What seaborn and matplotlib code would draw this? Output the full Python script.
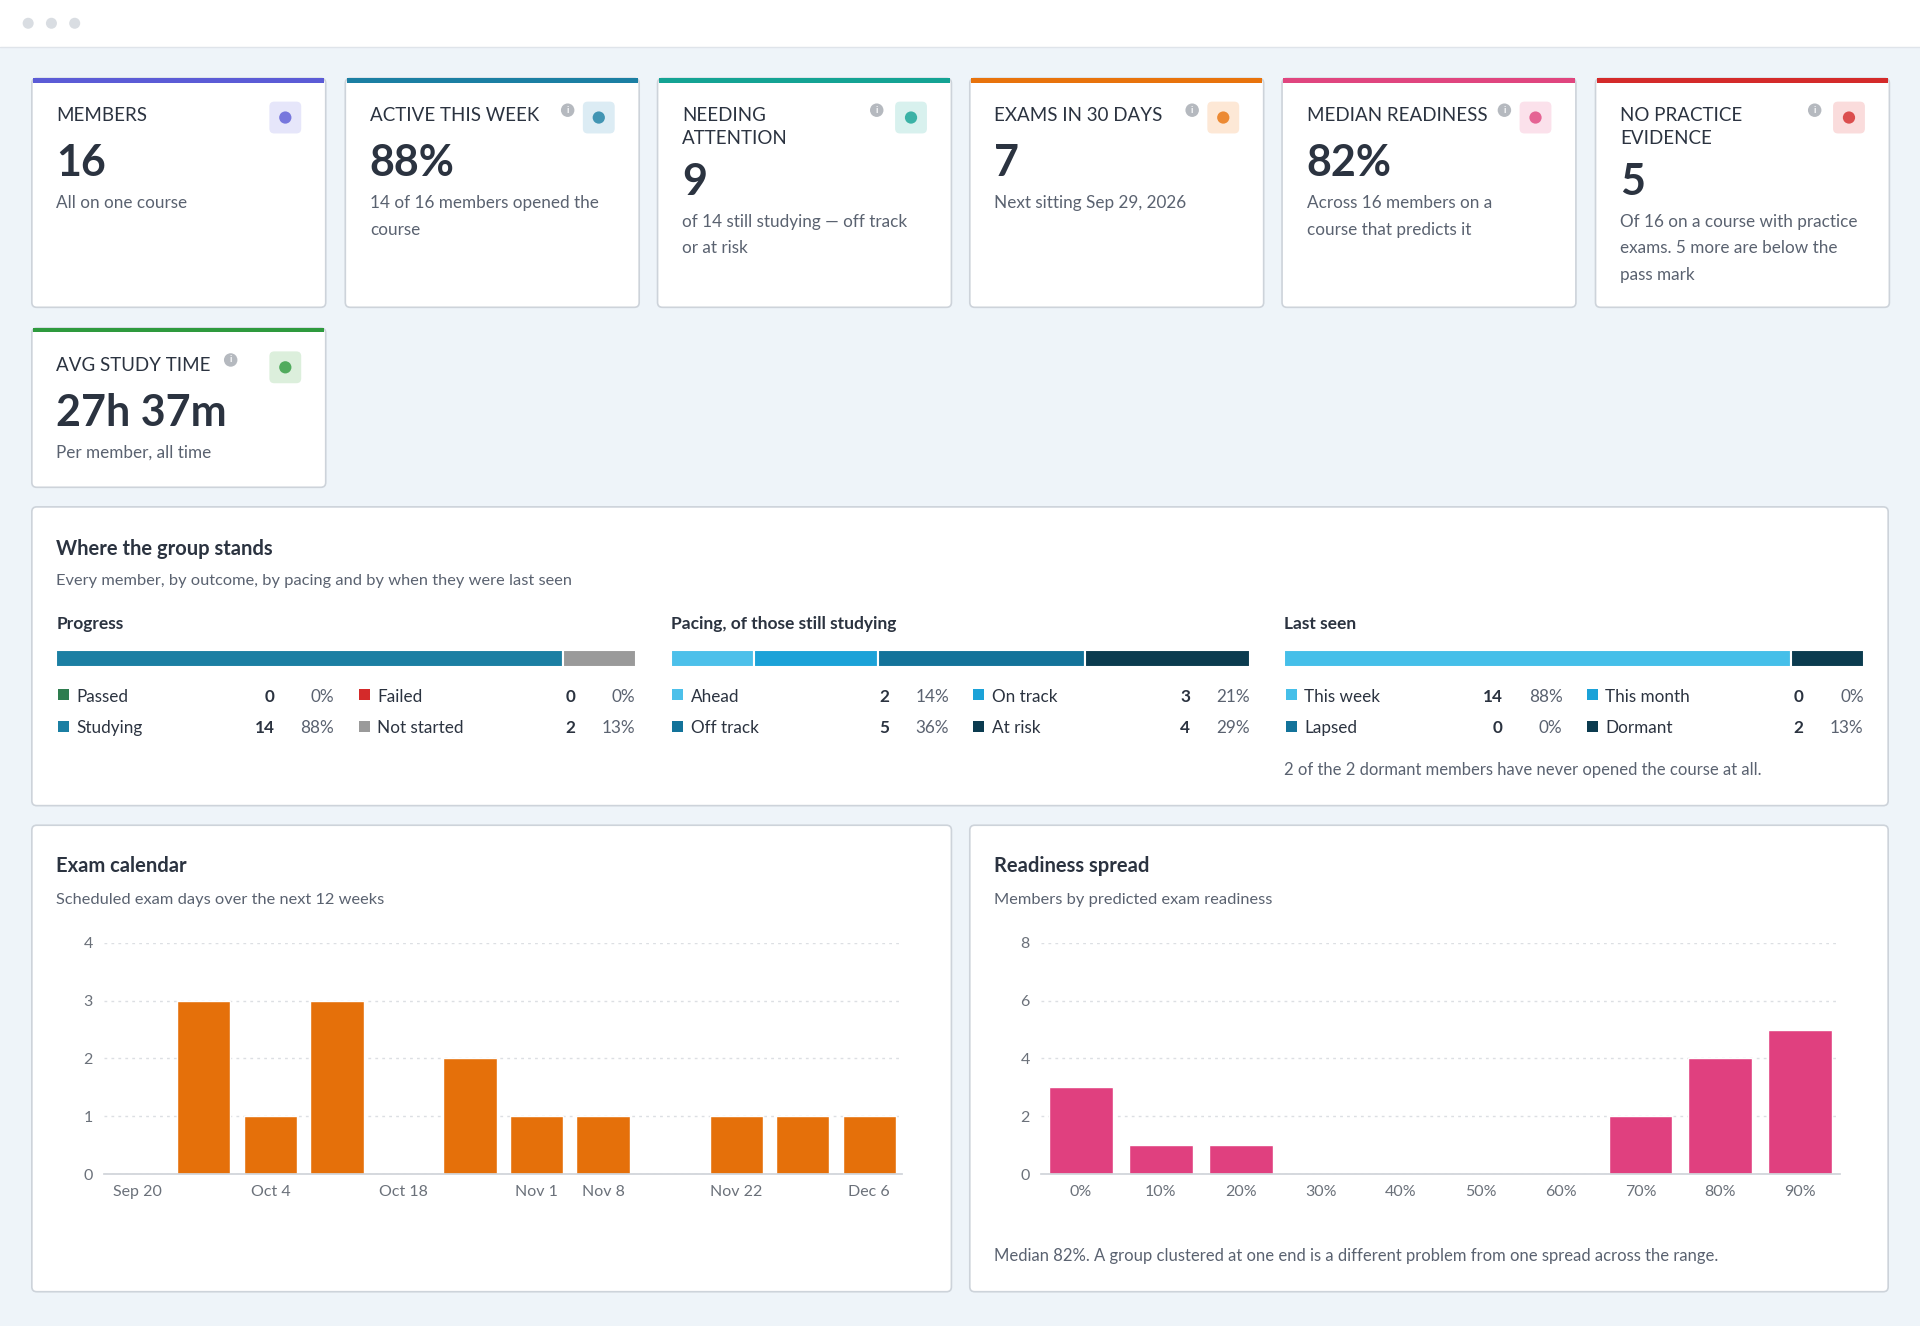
import matplotlib
matplotlib.use("Agg")
import matplotlib.pyplot as plt
import seaborn as sns
import numpy as np
from matplotlib.patches import FancyBboxPatch, Rectangle, Circle

sns.set_theme(style="white")
plt.rcParams['font.family'] = ['Lato', 'DejaVu Sans']

# ---------------- data ----------------
card_titles = [["MEMBERS"], ["ACTIVE THIS WEEK"], ["NEEDING", "ATTENTION"], ["EXAMS IN 30 DAYS"],
               ["MEDIAN READINESS"], ["NO PRACTICE", "EVIDENCE"], ["AVG STUDY TIME"]]
card_values = ["16", "88%", "9", "7", "82%", "5", "27h 37m"]
card_notes = [["All on one course"], ["14 of 16 members opened the", "course"],
              ["of 14 still studying — off track", "or at risk"], ["Next sitting Sep 29, 2026"],
              ["Across 16 members on a", "course that predicts it"],
              ["Of 16 on a course with practice", "exams. 5 more are below the", "pass mark"],
              ["Per member, all time"]]
card_info = [False, True, True, True, True, True, True]
card_colors = ["#5b5bd6", "#1b7fa3", "#14a394", "#e8730c", "#e0457f", "#d42a2a", "#2e9a3e"]
card_icon_bg = ["#e6e6fa", "#dcecf4", "#d8f1ee", "#fde8d6", "#fbe1eb", "#fadcdc", "#dcefdc"]

progress_labels = ["Passed", "Failed", "Studying", "Not started"]
progress_counts = [0, 0, 14, 2]
progress_pcts = ["0%", "0%", "88%", "13%"]
progress_colors = ["#2e7d4f", "#d42a2a", "#1b7fa3", "#9a9a9a"]

pacing_labels = ["Ahead", "On track", "Off track", "At risk"]
pacing_counts = [2, 3, 5, 4]
pacing_pcts = ["14%", "21%", "36%", "29%"]
pacing_colors = ["#4cc0ea", "#1ba2d8", "#13739a", "#0b3b4f"]

seen_labels = ["This week", "This month", "Lapsed", "Dormant"]
seen_counts = [14, 0, 0, 2]
seen_pcts = ["88%", "0%", "0%", "13%"]
seen_colors = ["#45bfe9", "#1ba2d8", "#13739a", "#0b3b4f"]

exam_weeks = ["Sep 20", "Sep 27", "Oct 4", "Oct 11", "Oct 18", "Oct 25", "Nov 1", "Nov 8",
              "Nov 15", "Nov 22", "Nov 29", "Dec 6"]
exam_counts = [0, 3, 1, 3, 0, 2, 1, 1, 0, 1, 1, 1]
exam_shown = ["Sep 20", "Oct 4", "Oct 18", "Nov 1", "Nov 8", "Nov 22", "Dec 6"]

ready_bins = ["0%", "10%", "20%", "30%", "40%", "50%", "60%", "70%", "80%", "90%"]
ready_counts = [3, 1, 1, 0, 0, 0, 0, 2, 4, 5]

# ---------------- canvas ----------------
W, H = 1568, 1083
fig = plt.figure(figsize=(19.2, 13.26), dpi=100)
bg = fig.add_axes([0, 0, 1, 1])
bg.set_xlim(0, W); bg.set_ylim(H, 0); bg.axis("off")
fig.patch.set_facecolor("#eef4f9")

DARK = "#2b3340"; GRAY = "#5a6270"; BORDER = "#cdd3da"

def fx(x): return x / W
def fy(y): return 1 - y / H
def T(x, y, s, size=12, color=DARK, weight="normal", ha="left", va="baseline"):
    bg.text(x, y, s, fontsize=size, color=color, fontweight=weight, ha=ha, va=va)
def box(x0, y0, x1, y1, fc="white", ec=BORDER, r=4, lw=1.2, z=1):
    bg.add_patch(FancyBboxPatch((x0, y0), x1 - x0, y1 - y0, boxstyle=f"round,pad=0,rounding_size={r}",
                                fc=fc, ec=ec, lw=lw, zorder=z))

# window header
bg.add_patch(Rectangle((0, 0), W, 38, fc="white", ec="none"))
bg.plot([0, W], [38, 38], color="#dfe4ea", lw=1)
for cx in (23, 42, 61):
    bg.add_patch(Circle((cx, 19), 4.5, fc="#d9dde2", ec="none"))

# cards
xs = [26, 282, 537, 792, 1047, 1303, 26]
ys = [64] * 6 + [268]
hs = [187] * 6 + [130]
for i in range(7):
    x0, y0, h = xs[i], ys[i], hs[i]
    box(x0, y0, x0 + 240, y0 + h)
    bg.add_patch(Rectangle((x0 + 1, y0), 238, 3.5, fc=card_colors[i], ec="none", zorder=3))
    tl = card_titles[i]
    for k, line in enumerate(tl):
        T(x0 + 20, y0 + 35 + 19 * k, line, size=13.5)
    if card_info[i]:
        if len(tl) == 1:
            ix = x0 + 20 + len(tl[0]) * 9.6 + 8
        else:
            ix = x0 + 179
        bg.add_patch(Circle((ix, y0 + 26), 5.5, fc="#b5b9bf", ec="none", zorder=3))
        T(ix, y0 + 26, "i", size=6.5, color="white", weight="bold", ha="center", va="center")
    box(x0 + 194, y0 + 19, x0 + 220, y0 + 45, fc=card_icon_bg[i], ec="none", r=4, z=3)
    bg.add_patch(Circle((x0 + 207, y0 + 32), 5, fc=card_colors[i], ec="none", zorder=4, alpha=0.8))
    off = 15 * (len(tl) - 1)
    T(x0 + 20, y0 + 80 + off, card_values[i], size=31, weight="bold")
    for k, line in enumerate(card_notes[i]):
        T(x0 + 20, y0 + 106 + off + 22 * k, line, size=12.3, color=GRAY)

# group stands section
box(26, 414, 1542, 658)
T(46, 453, "Where the group stands", size=14.5, weight="bold")
T(46, 478, "Every member, by outcome, by pacing and by when they were last seen", size=11.8, color=GRAY)

def stack_section(x0, title, labels, counts, pcts, colors):
    T(x0, 514, title, size=12.5, weight="bold")
    ax = fig.add_axes([fx(x0), fy(545), fx(473), 14 / H])
    left = 0
    for c, col in zip(counts, colors):
        if c > 0:
            ax.barh([0], [c], left=left, color=col, height=1, edgecolor="white", linewidth=1.5)
        left += c
    ax.set_xlim(0, sum(counts)); ax.set_ylim(-0.5, 0.5); ax.axis("off")
    for j in range(4):
        col = j % 2; row = j // 2
        bx = x0 + col * 246; by = 568 + row * 26
        bg.add_patch(Rectangle((bx + 1, by - 5), 9, 9, fc=colors[j], ec="none"))
        T(bx + 16, by + 5, labels[j], size=12.3, va="baseline")
        T(bx + 178, by + 5, str(counts[j]), size=12.3, weight="bold", ha="right")
        T(bx + 227, by + 5, pcts[j], size=12.3, color=GRAY, ha="right")

stack_section(46, "Progress", progress_labels, progress_counts, progress_pcts, progress_colors)
stack_section(548, "Pacing, of those still studying", pacing_labels, pacing_counts, pacing_pcts, pacing_colors)
stack_section(1049, "Last seen", seen_labels, seen_counts, seen_pcts, seen_colors)
T(1049, 633, "2 of the 2 dormant members have never opened the course at all.", size=12, color=GRAY)

# chart panels
box(26, 674, 777, 1055)
box(792, 674, 1542, 1055)
T(46, 712, "Exam calendar", size=14.5, weight="bold")
T(46, 738, "Scheduled exam days over the next 12 weeks", size=11.8, color=GRAY)
T(812, 712, "Readiness spread", size=14.5, weight="bold")
T(812, 738, "Members by predicted exam readiness", size=11.8, color=GRAY)
T(812, 1030, "Median 82%. A group clustered at one end is a different problem from one spread across the range.",
  size=12, color=GRAY)

def style(ax, ymax, step):
    ax.set_ylim(0, ymax)
    ax.set_yticks(np.arange(0, ymax + 0.1, step))
    ax.grid(axis="y", color="#dcdfe3", linestyle=(0, (2, 3)), lw=1)
    ax.set_axisbelow(True)
    for s in ("top", "right", "left"):
        ax.spines[s].set_visible(False)
    ax.spines["bottom"].set_color("#d0d4d9")
    ax.tick_params(axis="both", length=0, labelsize=11.5, labelcolor="#6b717a", pad=8)
    ax.set_xlabel(""); ax.set_ylabel("")
    ax.set_facecolor("none")

ax1 = fig.add_axes([fx(85), fy(959), fx(652), (959 - 770) / H])
sns.barplot(x=exam_weeks, y=exam_counts, color="#e5700a", saturation=1, width=0.8, ax=ax1)
style(ax1, 4, 1)
ax1.set_xticks(range(len(exam_weeks)))
ax1.set_xticklabels([w if w in exam_shown else "" for w in exam_weeks])

ax2 = fig.add_axes([fx(850), fy(959), fx(653), (959 - 770) / H])
sns.barplot(x=ready_bins, y=ready_counts, color="#e0407f", saturation=1, width=0.8, ax=ax2)
style(ax2, 8, 2)

fig.savefig("out.png", dpi=100, facecolor=fig.get_facecolor())
